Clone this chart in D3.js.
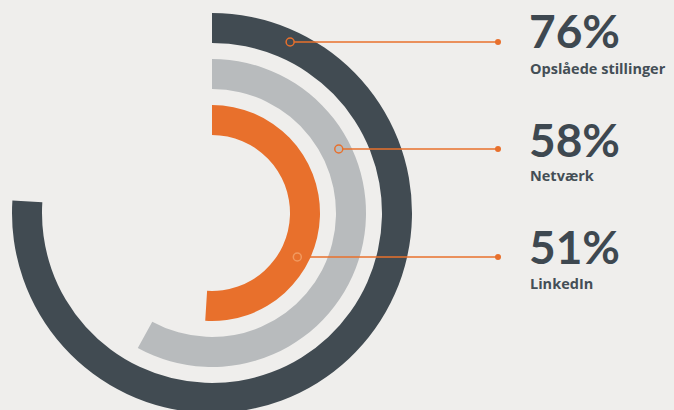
<!DOCTYPE html>
<html>
<head>
<meta charset="utf-8">
<script src="https://cdn.jsdelivr.net/npm/d3@7"></script>
<style>
  html, body { margin: 0; padding: 0; background: #efeeec; }
  svg { display: block; }
  .pct { font-family: Lato, "Open Sans", sans-serif; font-weight: 700; fill: #3e4850; }
  .lbl { font-family: "Open Sans", Lato, sans-serif; font-weight: 700; fill: #444e56; }
</style>
</head>
<body>
<svg class="chart" width="674" height="410"></svg>
<script>
// data
var values = [76, 58, 51];
var labels = ["Opslåede stillinger", "Netværk", "LinkedIn"];
var colors = ["#414b52", "#b8bbbd", "#e8702c"];

var W = 674, H = 410;
var cx = 212, cy = 213;
var svg = d3.select(".chart");

// ring radii, outermost first
var thick = 30;
var outerR = d3.scaleLinear().domain([0, values.length - 1]).range([200, 108]);
var ang = d3.scaleLinear().domain([0, 100]).range([0, 2 * Math.PI]);

var arc = d3.arc()
    .innerRadius(function (d, i) { return outerR(i) - thick; })
    .outerRadius(function (d, i) { return outerR(i); })
    .startAngle(0)
    .endAngle(function (d) { return ang(d); });

var g = svg.append("g").attr("transform", "translate(" + cx + "," + cy + ")");
g.selectAll("path.bar").data(values).enter().append("path")
    .attr("class", "bar")
    .attr("d", arc)
    .attr("fill", function (d, i) { return colors[i]; });

// leader lines: y of each label row
var rowY = [42, 149, 257];
var lineEnd = 498;
var orange = "#e8702c";
var markStroke = ["#e8702c", "#e8702c", "#f1995f"];

var leaders = svg.append("g");
values.forEach(function (v, i) {
    var rm = outerR(i) - thick / 2 + 3;
    var dy = rowY[i] - cy;
    var x0 = cx + Math.sqrt(rm * rm - dy * dy);
    leaders.append("line")
        .attr("x1", x0 + 4).attr("x2", lineEnd)
        .attr("y1", rowY[i]).attr("y2", rowY[i])
        .attr("stroke", orange).attr("stroke-width", 1.5);
    leaders.append("circle")
        .attr("cx", x0).attr("cy", rowY[i]).attr("r", 4)
        .attr("fill", "none").attr("stroke", markStroke[i]).attr("stroke-width", 1.5);
    leaders.append("circle")
        .attr("cx", lineEnd).attr("cy", rowY[i]).attr("r", 3)
        .attr("fill", orange);
});

// labels
var tx = 529;
var pctBase = [48, 157, 264];
var lblBase = [74, 181, 289];
var texts = svg.append("g");
values.forEach(function (v, i) {
    texts.append("text").attr("class", "pct")
        .attr("x", tx).attr("y", pctBase[i])
        .attr("font-size", 46)
        .text(v + "%");
    texts.append("text").attr("class", "lbl")
        .attr("x", tx + 1).attr("y", lblBase[i])
        .attr("font-size", 14.5)
        .text(labels[i]);
});
</script>
</body>
</html>
